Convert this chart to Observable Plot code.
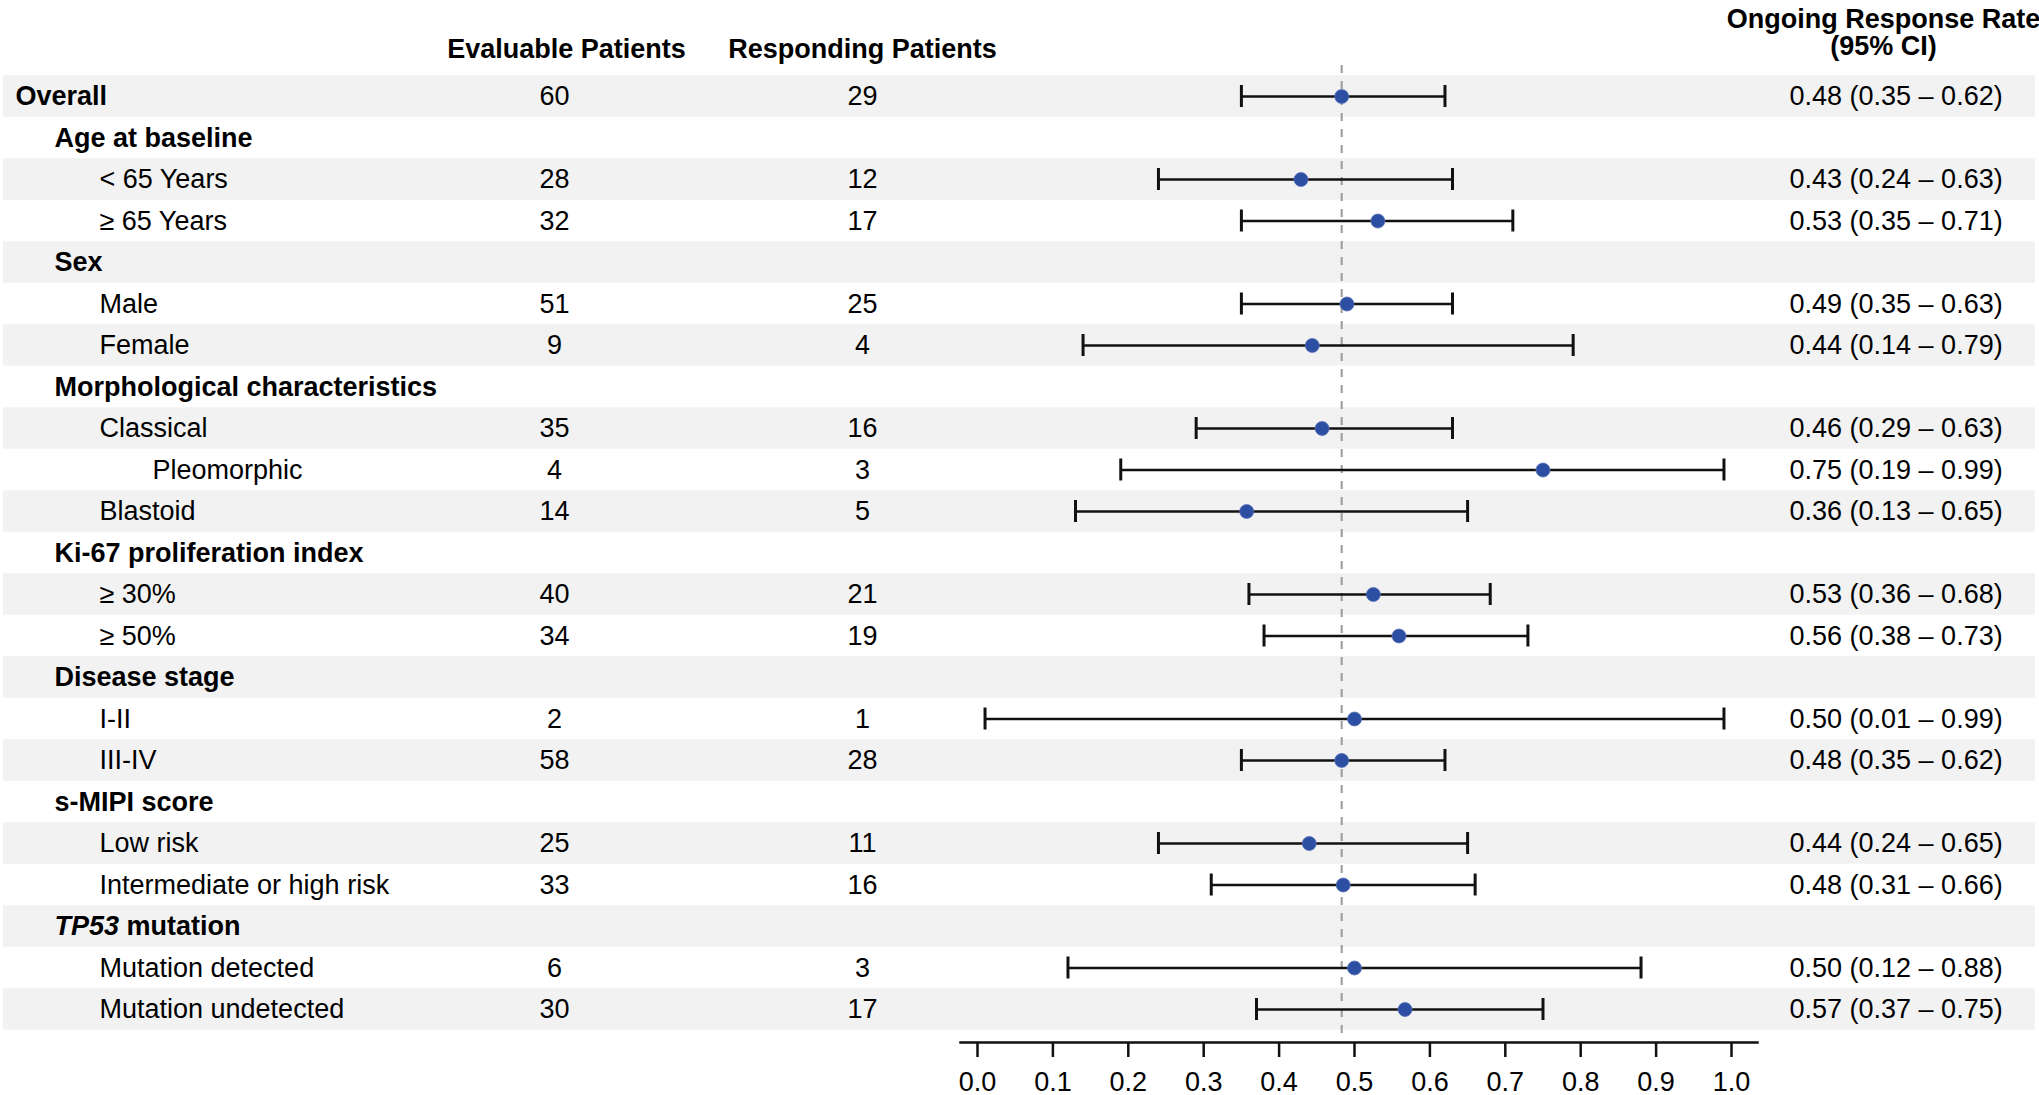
<!DOCTYPE html>
<html>
<head>
<meta charset="utf-8">
<script src="https://cdn.jsdelivr.net/npm/d3@7"></script>
<script src="https://cdn.jsdelivr.net/npm/@observablehq/plot@0.6"></script>
<style>
  html, body { margin: 0; padding: 0; background: #fff; }
  #chart { width: 2039px; height: 1095px; overflow: hidden; }
</style>
</head>
<body>
<div id="chart"></div>
<script>
// ---- data ----
const labels = [
  "Overall", "Age at baseline", "< 65 Years", "≥ 65 Years", "Sex", "Male", "Female",
  "Morphological characteristics", "Classical", "Pleomorphic", "Blastoid",
  "Ki-67 proliferation index", "≥ 30%", "≥ 50%", "Disease stage", "I-II", "III-IV",
  "s-MIPI score", "Low risk", "Intermediate or high risk", "TP53 mutation",
  "Mutation detected", "Mutation undetected"
];
const levels     = [0, 1, 2, 2, 1, 2, 2, 1, 2, 3, 2, 1, 2, 2, 1, 2, 2, 1, 2, 2, 1, 2, 2];
const evaluable  = [60, null, 28, 32, null, 51, 9, null, 35, 4, 14, null, 40, 34, null, 2, 58, null, 25, 33, null, 6, 30];
const responding = [29, null, 12, 17, null, 25, 4, null, 16, 3, 5, null, 21, 19, null, 1, 28, null, 11, 16, null, 3, 17];
const rate       = [0.483, null, 0.429, 0.531, null, 0.490, 0.444, null, 0.457, 0.750, 0.357, null, 0.525, 0.559, null, 0.500, 0.483, null, 0.440, 0.485, null, 0.500, 0.567];
const lower      = [0.35, null, 0.24, 0.35, null, 0.35, 0.14, null, 0.29, 0.19, 0.13, null, 0.36, 0.38, null, 0.01, 0.35, null, 0.24, 0.31, null, 0.12, 0.37];
const upper      = [0.62, null, 0.63, 0.71, null, 0.63, 0.79, null, 0.63, 0.99, 0.65, null, 0.68, 0.73, null, 0.99, 0.62, null, 0.65, 0.66, null, 0.88, 0.75];
const headers    = ["Evaluable Patients", "Responding Patients", "Ongoing Response Rate\n(95% CI)"];
const xTicks     = [0, 0.1, 0.2, 0.3, 0.4, 0.5, 0.6, 0.7, 0.8, 0.9, 1.0];

// ---- table built from the arrays ----
const rows = labels.map((label, i) => ({
  i, label, level: levels[i],
  n: evaluable[i], k: responding[i],
  rate: rate[i], lo: lower[i], hi: upper[i],
  ci: rate[i] == null ? null : `${rate[i].toFixed(2)} (${lower[i].toFixed(2)} – ${upper[i].toFixed(2)})`
}));
const dataRows = rows.filter(d => d.rate != null);
const striped = rows.filter(d => d.i % 2 === 0);

const FONT = "'Liberation Sans', Arial, Helvetica, sans-serif";
const FS = 27;

const plot = Plot.plot({
  width: 2039,
  height: 1095,
  marginTop: 0, marginLeft: 0, marginRight: 0, marginBottom: 53,
  style: { fontFamily: FONT, fontSize: FS + "px", color: "#000", background: "#fff" },
  x: { domain: [0, 1], range: [977, 1731] },
  y: { domain: [0, 22], range: [96, 1009], axis: null },
  marks: [
    // zebra stripes
    Plot.rect(striped, { y1: d => d.i - 0.5, y2: d => d.i + 0.5, fill: "#f2f2f2", insetLeft: 3, insetRight: 4 }),
    // reference line at overall rate
    Plot.ruleX([rate[0]], { stroke: "#9a9a9a", strokeWidth: 2, strokeDasharray: "8,8", insetTop: 65, insetBottom: 2 }),
    // confidence intervals
    Plot.ruleY(dataRows, { y: "i", x1: "lo", x2: "hi", stroke: "#111", strokeWidth: 2.5 }),
    Plot.ruleX(dataRows, { x: "lo", y1: "i", y2: "i", insetTop: -11, insetBottom: -11, stroke: "#111", strokeWidth: 3 }),
    Plot.ruleX(dataRows, { x: "hi", y1: "i", y2: "i", insetTop: -11, insetBottom: -11, stroke: "#111", strokeWidth: 3 }),
    // point estimates
    Plot.dot(dataRows, { x: "rate", y: "i", r: 7, fill: "#2d4fa3", stroke: "#5a74b8", strokeWidth: 0.8 }),
    // x axis
    Plot.frame({ anchor: "bottom", insetLeft: 960, insetRight: 282, strokeWidth: 2.5, stroke: "#111" }),
    Plot.axisX({ anchor: "bottom", ticks: xTicks, tickFormat: d => d.toFixed(1), tickSize: 15, tickPadding: 14,
                 strokeWidth: 2.5, fontSize: FS, label: null, stroke: "#111" }),
    // row labels
    Plot.text(rows.filter(d => d.level === 0), { y: "i", text: "label", frameAnchor: "left", dx: 15, textAnchor: "start", fontWeight: "bold", fontSize: FS }),
    Plot.text(rows.filter(d => d.level === 1), { y: "i", text: "label", frameAnchor: "left", dx: 54, textAnchor: "start", fontWeight: "bold", fontSize: FS }),
    Plot.text(rows.filter(d => d.level === 2), { y: "i", text: "label", frameAnchor: "left", dx: 99, textAnchor: "start", fontSize: FS }),
    Plot.text(rows.filter(d => d.level === 3), { y: "i", text: "label", frameAnchor: "left", dx: 152, textAnchor: "start", fontSize: FS }),
    // numeric columns
    Plot.text(dataRows, { y: "i", text: "n", frameAnchor: "left", dx: 554, textAnchor: "middle", fontSize: FS }),
    Plot.text(dataRows, { y: "i", text: "k", frameAnchor: "left", dx: 862, textAnchor: "middle", fontSize: FS }),
    Plot.text(dataRows, { y: "i", text: "ci", frameAnchor: "left", dx: 1789, textAnchor: "start", fontSize: FS }),
    // column headers
    Plot.text([headers[0]], { text: d => d, frameAnchor: "top-left", dx: 566, dy: 38, lineAnchor: "top", textAnchor: "middle", fontWeight: "bold", fontSize: FS }),
    Plot.text([headers[1]], { text: d => d, frameAnchor: "top-left", dx: 862, dy: 38, lineAnchor: "top", textAnchor: "middle", fontWeight: "bold", fontSize: FS }),
    Plot.text([headers[2]], { text: d => d, frameAnchor: "top-left", dx: 1883, dy: 9, lineAnchor: "top", lineHeight: 0.98, textAnchor: "middle", fontWeight: "bold", fontSize: FS })
  ]
});

// italicise the gene name
plot.querySelectorAll("text").forEach(t => {
  if (t.textContent === "TP53 mutation") {
    t.textContent = "";
    const ns = "http://www.w3.org/2000/svg";
    const a = document.createElementNS(ns, "tspan");
    a.setAttribute("font-style", "italic");
    a.textContent = "TP53";
    const b = document.createElementNS(ns, "tspan");
    b.textContent = " mutation";
    t.appendChild(a); t.appendChild(b);
  }
});

document.getElementById("chart").appendChild(plot);
</script>
</body>
</html>
